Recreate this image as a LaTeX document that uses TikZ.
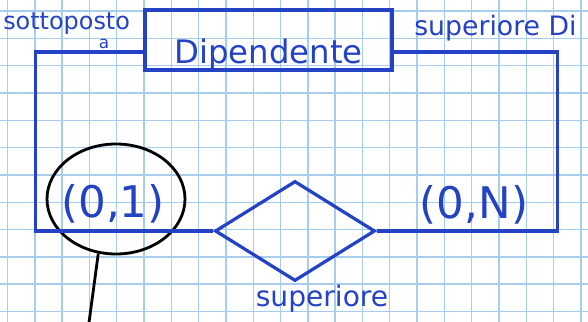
\documentclass[tikz,border=0pt]{standalone}
\usepackage{fontspec}
\setmainfont{DejaVu Sans}
\usepackage{xcolor}
\definecolor{ink}{HTML}{2442C4}
\definecolor{gridblue}{HTML}{A8CCEC}
\usetikzlibrary{
  positioning,
  shapes.geometric
}

\begin{document}
\begin{tikzpicture}[
  x=0.25mm, y=-0.25mm,
  entity/.style={rectangle, draw=ink, line width=2.3pt, minimum width=61.75mm, minimum height=15mm, inner sep=0pt},
  relation/.style={diamond, draw=ink, line width=2.3pt, minimum width=40mm, minimum height=25mm, inner sep=0pt},
  hand/.style={text=ink, font=\fontsize{19}{21}\selectfont, inner sep=0pt},
  card/.style={text=ink, font=\fontsize{31}{34}\selectfont, inner sep=0pt},
  link/.style={draw=ink, line width=2.3pt},
  pen/.style={draw=black, line width=2pt},
]

\useasboundingbox[fill=white] (0,0) rectangle (588,322);
\clip (0,0) rectangle (588,322);

% squared paper
\foreach \i in {0,...,21} {
  \draw[gridblue, line width=1pt] (7.5+27.3*\i,0) -- (7.5+27.3*\i,322);
}
\foreach \j in {0,...,11} {
  \draw[gridblue, line width=1pt] (0,11.2+27.3*\j) -- (588,11.2+27.3*\j);
}

\node[entity, label={[hand, font=\fontsize{23}{25}\selectfont, yshift=-3.6mm]center:Dipendente}] (dip) at (268.5,40) {};
\node[relation] (sup) at (295,231) {};

\node[hand, font=\fontsize{17}{19}\selectfont, anchor=west] (lblsott) at (3,24) {sottoposto};
\node[hand, font=\fontsize{12}{14}\selectfont] (lbla) at (104,44) {a};
\node[hand, anchor=west] (lblsup) at (414,28) {superiore Di};
\node[hand, font=\fontsize{20}{22}\selectfont] (lblrel) at (322,299) {superiore};

\node[card] (card1) at (113,204) {(0,1)};
\node[card] (cardn) at (474,205) {(0,N)};

\node[ellipse, pen, minimum width=34.5mm, minimum height=27.5mm] (ring) at (116,199) {};
\coordinate (tail) at (88,330);

\draw[link] ([yshift=-3mm]dip.west) -- ++(-108,0) |- (sup.west);
\draw[link] ([yshift=-3mm]dip.east) -- ++(164,0) |- (sup.east);
\draw[pen] (ring.252) -- (tail);

\end{tikzpicture}
\end{document}
